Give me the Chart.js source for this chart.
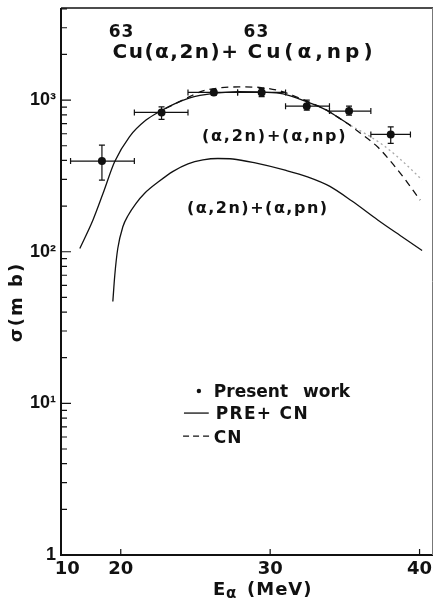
<!DOCTYPE html>
<html>
<head>
<meta charset="utf-8">
<script src="https://cdn.jsdelivr.net/npm/chart.js@4.4.1/dist/chart.umd.min.js"></script>
<style>
  html, body { margin: 0; padding: 0; background: #fff; }
  canvas { display: block; background: #fff; }
</style>
</head>
<body>
<canvas id="xsChart" width="437" height="602"></canvas>
<script>
// measured cross sections (mb) with energy bins and errors
const measuredE = [18.74, 22.73, 26.23, 29.43, 32.45, 35.28, 38.07];
const measuredSigma = [396, 829, 1124, 1124, 912, 846, 594];
const measuredELow = [16.64, 20.91, 24.5, 27.82, 31.03, 33.97, 36.74];
const measuredEHigh = [20.91, 24.5, 27.82, 31.03, 33.97, 36.74, 39.39];
const measuredSigmaLow = [297, 746, 1080, 1053, 859, 796, 518];
const measuredSigmaHigh = [505, 903, 1170, 1196, 1000, 913, 667];

// PRE + CN for (a,2n)+(a,np)
const preCnE = [17.26, 18.14, 18.81, 19.59, 20.58, 21.69, 22.69, 23.6, 24.57, 25.3, 26.11, 27.0, 27.89, 29.43, 30.87, 32.4, 33.73, 34.5, 35.4, 36.5, 37.5, 38.5, 39.5, 40.17];
const preCnSigma = [105, 162, 242, 392, 573, 738, 850, 945, 1030, 1075, 1105, 1125, 1135, 1128, 1100, 980, 863, 775, 680, 590, 510, 425, 345, 297];

// CN only
const cnE = [23.0, 24.57, 25.5, 26.5, 27.9, 29.4, 30.5, 31.5, 32.4, 33.73, 34.5, 35.4, 36.0, 37.2, 38.3, 39.2, 40.04];
const cnSigma = [880, 1050, 1150, 1200, 1222, 1210, 1160, 1075, 990, 865, 775, 675, 610, 490, 370, 285, 219];

// PRE + CN for (a,2n)+(a,pn)
const pnE = [19.47, 19.6, 19.8, 20.14, 20.5, 21.0, 21.6, 22.5, 23.5, 24.5, 25.5, 26.5, 27.5, 29.0, 31.0, 32.5, 34.0, 35.5, 37.2, 38.7, 40.17];
const pnSigma = [47, 70, 105, 146, 174, 207, 243, 288, 339, 380, 403, 412, 409, 385, 345, 312, 270, 215, 162, 128, 102];

const xTickValues = [16, 20, 30, 40];
const xTickLabels = ['  10', '20', '30', '40'];
const yTickValues = [1, 10, 100, 1000];
const yTickLabels = ['1', '10¹', '10²', '10³'];

const ink = '#111';
const toPoints = (xs, ys) => xs.map((x, i) => ({ x, y: ys[i] }));

// write text with extra letter spacing
function spaced(ctx, text, x, y, font, spacing) {
  ctx.font = font;
  ctx.letterSpacing = spacing + 'px';
  ctx.fillText(text, x, y);
  ctx.letterSpacing = '0px';
}

const decorations = {
  id: 'decorations',
  afterDatasetsDraw(chart) {
    const { ctx, scales: { x, y } } = chart;
    ctx.save();
    ctx.strokeStyle = ink;
    ctx.lineWidth = 1.2;
    const cap = 3;
    measuredE.forEach((e, i) => {
      const cx = x.getPixelForValue(e);
      const cy = y.getPixelForValue(measuredSigma[i]);
      const x0 = x.getPixelForValue(measuredELow[i]);
      const x1 = x.getPixelForValue(measuredEHigh[i]);
      const y0 = y.getPixelForValue(measuredSigmaLow[i]);
      const y1 = y.getPixelForValue(measuredSigmaHigh[i]);
      ctx.beginPath();
      // horizontal bar + end caps
      ctx.moveTo(x0, cy); ctx.lineTo(x1, cy);
      ctx.moveTo(x0, cy - cap); ctx.lineTo(x0, cy + cap);
      ctx.moveTo(x1, cy - cap); ctx.lineTo(x1, cy + cap);
      // vertical bar + end caps
      ctx.moveTo(cx, y0); ctx.lineTo(cx, y1);
      ctx.moveTo(cx - cap, y0); ctx.lineTo(cx + cap, y0);
      ctx.moveTo(cx - cap, y1); ctx.lineTo(cx + cap, y1);
      ctx.stroke();
    });
    ctx.restore();
  },
  afterDraw(chart) {
    const { ctx, chartArea: a, scales: { x, y } } = chart;
    const at = (e, s) => [x.getPixelForValue(e), y.getPixelForValue(s)];
    ctx.save();
    ctx.strokeStyle = ink;
    ctx.fillStyle = ink;

    // frame
    ctx.lineWidth = 2;
    ctx.beginPath();
    ctx.moveTo(a.left, a.top); ctx.lineTo(a.left, a.bottom); ctx.lineTo(a.right, a.bottom);
    ctx.stroke();
    ctx.lineWidth = 1.3;
    ctx.beginPath();
    ctx.moveTo(a.left, a.top); ctx.lineTo(a.right, a.top);
    ctx.stroke();
    ctx.strokeStyle = '#777';
    ctx.lineWidth = 1;
    ctx.beginPath();
    ctx.moveTo(a.right - 0.5, a.top); ctx.lineTo(a.right - 0.5, a.bottom);
    ctx.stroke();
    ctx.strokeStyle = ink;

    // inward tick marks
    ctx.lineWidth = 1.2;
    ctx.beginPath();
    for (let k = 0; k <= 3; k++) {
      for (let m = 1; m <= 9; m++) {
        const v = m * Math.pow(10, k);
        if (v >= y.max) break;
        const py = y.getPixelForValue(v);
        ctx.moveTo(a.left, py);
        ctx.lineTo(a.left + (m === 1 ? 10 : 6), py);
      }
    }
    xTickValues.slice(1).forEach(v => {
      const pxv = x.getPixelForValue(v);
      ctx.moveTo(pxv, a.bottom);
      ctx.lineTo(pxv, a.bottom - 6);
    });
    ctx.stroke();

    // reaction heading
    ctx.textBaseline = 'alphabetic';
    ctx.textAlign = 'left';
    const big = 'bold 20px "DejaVu Sans"';
    const sup = 'bold 17px "DejaVu Sans"';
    let p = at(19.19, 2602); spaced(ctx, '63', p[0], p[1], sup, 1);
    p = at(19.45, 1892); spaced(ctx, 'Cu(α,2n)+', p[0], p[1], big, 1.5);
    p = at(28.22, 2602); spaced(ctx, '63', p[0], p[1], sup, 1);
    p = at(28.48, 1892); spaced(ctx, 'Cu(α,np)', p[0], p[1], big, 4);

    // curve labels
    const mid = 'bold 16px "DejaVu Sans"';
    p = at(25.43, 537); spaced(ctx, '(α,2n)+(α,np)', p[0], p[1], mid, 1.8);
    p = at(24.43, 180); spaced(ctx, '(α,2n)+(α,pn)', p[0], p[1], mid, 1.5);

    // key
    const key = 'bold 17px "DejaVu Sans"';
    p = at(25.23, 12.06);
    ctx.beginPath(); ctx.arc(p[0], p[1], 2.2, 0, Math.PI * 2); ctx.fill();
    p = at(26.23, 11.0); spaced(ctx, 'Present', p[0], p[1], key, 0);
    p = at(32.2, 11.0); spaced(ctx, 'work', p[0], p[1], key, 0);
    ctx.lineWidth = 1.3;
    let s0 = at(24.23, 8.63), s1 = at(25.89, 8.63);
    ctx.beginPath(); ctx.moveTo(s0[0], s0[1]); ctx.lineTo(s1[0], s1[1]); ctx.stroke();
    p = at(26.36, 7.88); spaced(ctx, 'PRE+ CN', p[0], p[1], key, 1.3);
    s0 = at(24.17, 6.09); s1 = at(26.09, 6.09);
    ctx.setLineDash([6, 4]);
    ctx.beginPath(); ctx.moveTo(s0[0], s0[1]); ctx.lineTo(s1[0], s1[1]); ctx.stroke();
    ctx.setLineDash([]);
    p = at(26.23, 5.48); spaced(ctx, 'CN', p[0], p[1], key, 1);

    // axis titles
    const tb = a.bottom + 40;
    spaced(ctx, 'E', 213, tb, 'bold 18px "DejaVu Sans"', 0);
    spaced(ctx, 'α', 226, tb + 3, 'bold 15px "DejaVu Sans"', 0);
    spaced(ctx, '(MeV)', 247, tb, 'bold 18px "DejaVu Sans"', 1);

    ctx.translate(17, 302);
    ctx.rotate(-Math.PI / 2);
    ctx.textAlign = 'center';
    ctx.textBaseline = 'middle';
    spaced(ctx, 'σ(m b)', 0, 0, 'bold 18px "DejaVu Sans"', 2);
    ctx.restore();
  }
};

const curve = {
  borderColor: ink,
  borderWidth: 1.3,
  pointRadius: 0,
  fill: false,
  cubicInterpolationMode: 'monotone'
};

new Chart(document.getElementById('xsChart'), {
  type: 'line',
  data: {
    datasets: [
      {
        ...curve,
        label: 'PRE+ CN',
        data: toPoints(preCnE, preCnSigma),
        segment: {
          borderColor: c => c.p0.parsed.x >= 35.4 ? '#aaa' : undefined,
          borderDash: c => c.p0.parsed.x >= 35.4 ? [2, 3] : undefined
        }
      },
      { ...curve, label: 'CN', data: toPoints(cnE, cnSigma), borderDash: [7, 5] },
      { ...curve, label: '(α,2n)+(α,pn)', data: toPoints(pnE, pnSigma) },
      {
        label: 'Present work',
        data: toPoints(measuredE, measuredSigma),
        showLine: false,
        pointRadius: 4,
        pointBackgroundColor: ink,
        pointBorderColor: ink,
        pointBorderWidth: 0
      }
    ]
  },
  options: {
    responsive: false,
    animation: false,
    devicePixelRatio: 1,
    layout: { padding: { top: 8, right: 1, left: 0, bottom: 0 } },
    plugins: { legend: { display: false }, tooltip: { enabled: false } },
    scales: {
      x: {
        type: 'linear',
        min: 16,
        max: 40.9,
        afterBuildTicks: s => { s.ticks = xTickValues.map(value => ({ value })); },
        afterFit: s => { s.height = 47; s.paddingLeft = 0; s.paddingRight = 0; },
        grid: { display: false, drawTicks: false },
        border: { display: false },
        ticks: {
          autoSkip: false,
          maxRotation: 0,
          padding: 4,
          color: ink,
          font: { family: 'DejaVu Sans', size: 18, weight: 'bold' },
          callback: v => xTickLabels[xTickValues.indexOf(v)]
        }
      },
      y: {
        type: 'logarithmic',
        min: 1,
        max: 4050,
        afterBuildTicks: s => { s.ticks = yTickValues.map(value => ({ value })); },
        afterFit: s => { s.width = 61; s.paddingTop = 0; s.paddingBottom = 0; },
        grid: { display: false, drawTicks: false },
        border: { display: false },
        ticks: {
          autoSkip: false,
          padding: 5,
          color: ink,
          font: { family: 'Liberation Sans', size: 18, weight: 'bold' },
          callback: v => yTickLabels[yTickValues.indexOf(v)]
        }
      }
    }
  },
  plugins: [decorations]
});
</script>
</body>
</html>
